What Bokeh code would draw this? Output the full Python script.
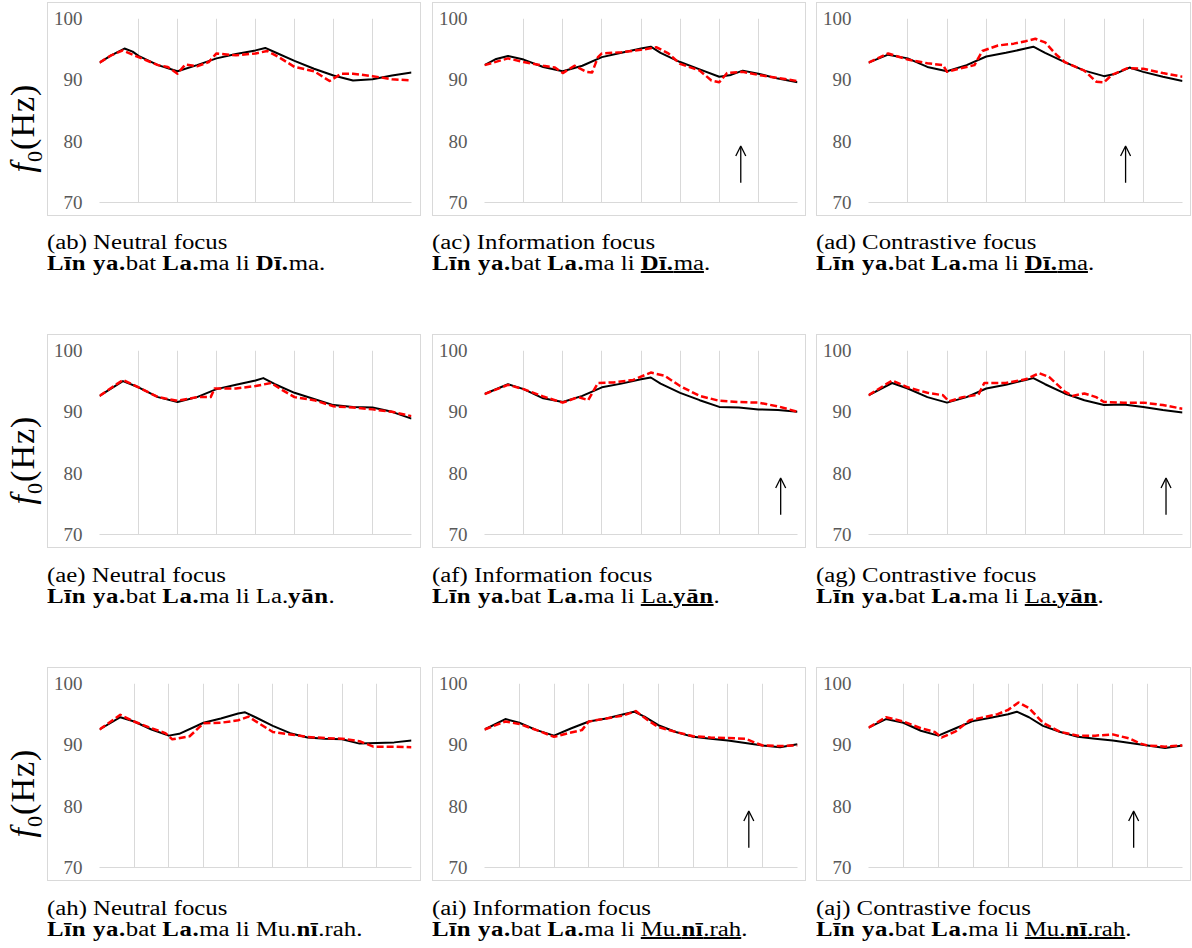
from bokeh.plotting import figure
from bokeh.models import Range1d, FixedTicker, Arrow, OpenHead, Div
from bokeh.layouts import row, column
from bokeh.embed import file_html
from bokeh.resources import INLINE

# ---------------- data ----------------
y_ticks = [70, 80, 90, 100]
row_intervals = [8, 8, 9]          # syllable intervals per row (gridlines - 1)

ab_black_x = [0, 0.3, 0.64, 0.85, 1, 1.5, 2, 2.5, 3, 3.5, 4, 4.25, 4.5, 5, 5.5, 6, 6.5, 7, 7.5, 8]
ab_black_y = [92.8, 94.0, 95.1, 94.6, 93.9, 92.4, 91.4, 92.4, 93.5, 94.2, 94.8, 95.2, 94.5, 93.1, 91.8, 90.7, 89.9, 90.1, 90.7, 91.2]
ab_red_x = [0, 0.3, 0.6, 1, 1.5, 1.75, 2, 2.2, 2.5, 2.8, 3, 3.5, 4, 4.3, 4.6, 5, 5.5, 5.9, 6.2, 6.5, 7, 7.5, 8]
ab_red_y = [92.8, 94.0, 94.8, 93.7, 92.4, 92.1, 91.0, 92.5, 92.2, 92.9, 94.3, 94.0, 94.3, 94.7, 93.7, 92.1, 91.4, 89.8, 91.0, 91.0, 90.6, 90.1, 89.9]

ac_black_x = [0, 0.3, 0.6, 1, 1.5, 2, 2.5, 3, 3.5, 4, 4.25, 4.5, 5, 5.5, 6, 6.3, 6.6, 7, 7.5, 8]
ac_black_y = [92.4, 93.4, 93.9, 93.3, 92.1, 91.4, 92.3, 93.7, 94.4, 95.1, 95.4, 94.4, 92.9, 91.7, 90.5, 90.8, 91.5, 91.0, 90.2, 89.6]
ac_red_x = [0, 0.6, 1, 1.5, 1.8, 2, 2.3, 2.6, 2.75, 2.9, 3, 3.5, 4, 4.4, 4.7, 5, 5.5, 5.8, 6, 6.2, 6.6, 7, 7.5, 8]
ac_red_y = [92.4, 93.5, 92.9, 92.3, 92.0, 91.1, 92.3, 91.3, 91.2, 93.7, 94.3, 94.5, 94.9, 95.3, 94.3, 92.6, 91.5, 89.9, 89.6, 91.1, 91.3, 90.8, 90.3, 89.8]

ad_black_x = [0, 0.5, 1, 1.5, 2, 2.5, 3, 3.5, 4, 4.2, 4.5, 5, 5.5, 6, 6.3, 6.65, 7, 7.5, 8]
ad_black_y = [92.8, 94.1, 93.5, 92.1, 91.4, 92.4, 93.8, 94.4, 95.1, 95.4, 94.4, 92.9, 91.5, 90.6, 91.0, 92.0, 91.3, 90.5, 89.8]
ad_red_x = [0, 0.5, 1, 1.5, 1.9, 2, 2.3, 2.7, 2.9, 3.3, 3.7, 4, 4.25, 4.5, 4.8, 5, 5.5, 5.8, 6, 6.2, 6.6, 7, 7.5, 8]
ad_red_y = [92.8, 94.3, 93.3, 92.7, 92.4, 91.3, 91.8, 92.4, 94.7, 95.6, 95.9, 96.3, 96.7, 96.1, 94.0, 92.9, 91.5, 89.7, 89.6, 90.8, 91.9, 91.8, 91.1, 90.5]

ae_black_x = [0, 0.6, 1, 1.5, 2, 2.5, 3, 3.5, 4, 4.2, 4.5, 5, 5.5, 6, 6.5, 7, 7.5, 8]
ae_black_y = [92.6, 95.0, 94.0, 92.4, 91.6, 92.4, 93.7, 94.4, 95.1, 95.5, 94.5, 93.1, 92.1, 91.1, 90.8, 90.7, 90.0, 88.9]
ae_red_x = [0, 0.6, 1, 1.5, 2, 2.5, 2.85, 2.95, 3.5, 4, 4.4, 4.7, 5, 5.5, 6, 6.5, 7, 7.5, 8]
ae_red_y = [92.6, 95.2, 94.0, 92.4, 91.8, 92.4, 92.4, 93.8, 93.8, 94.2, 94.7, 93.5, 92.4, 91.9, 90.9, 90.7, 90.4, 90.0, 89.3]

af_black_x = [0, 0.6, 1, 1.5, 2, 2.5, 3, 3.5, 4, 4.25, 4.5, 5, 5.5, 6, 6.5, 7, 7.5, 8]
af_black_y = [92.9, 94.5, 93.7, 92.2, 91.6, 92.6, 94.0, 94.6, 95.3, 95.6, 94.6, 93.1, 91.9, 90.8, 90.7, 90.4, 90.3, 90.0]
af_red_x = [0, 0.6, 1, 1.5, 2, 2.4, 2.65, 2.9, 3.3, 3.8, 4.25, 4.6, 5, 5.5, 6, 6.5, 7, 7.5, 8]
af_red_y = [92.9, 94.4, 93.7, 92.5, 91.5, 92.4, 91.9, 94.7, 94.8, 95.2, 96.4, 95.9, 94.2, 92.6, 91.8, 91.6, 91.5, 90.9, 90.0]

ag_black_x = [0, 0.6, 1, 1.5, 2, 2.5, 3, 3.5, 4, 4.2, 4.5, 5, 5.5, 6, 6.5, 7, 7.5, 8]
ag_black_y = [92.7, 94.7, 93.8, 92.4, 91.5, 92.4, 93.8, 94.4, 95.2, 95.5, 94.5, 93.0, 91.9, 91.1, 91.2, 90.8, 90.3, 89.9]
ag_red_x = [0, 0.6, 1, 1.5, 1.9, 2.05, 2.4, 2.8, 2.95, 3.5, 4, 4.35, 4.6, 5, 5.2, 5.5, 5.8, 6, 6.5, 7, 7.5, 8]
ag_red_y = [92.7, 95.1, 94.0, 93.1, 92.7, 91.7, 92.4, 92.8, 94.7, 94.7, 95.3, 96.3, 95.7, 93.3, 92.6, 93.0, 92.4, 91.6, 91.5, 91.5, 91.1, 90.5]

ah_black_x = [0, 0.6, 1, 1.5, 2, 2.3, 3, 3.5, 4, 4.2, 4.5, 5, 5.5, 6, 6.5, 7, 7.5, 8, 8.5, 9]
ah_black_y = [92.5, 94.5, 93.8, 92.5, 91.5, 91.8, 93.6, 94.3, 95.1, 95.3, 94.5, 93.1, 91.9, 91.2, 91.0, 90.9, 90.2, 90.3, 90.4, 90.7]
ah_red_x = [0, 0.6, 1, 1.5, 1.9, 2.1, 2.6, 3, 3.5, 4, 4.3, 4.6, 5, 5.5, 6, 6.5, 7, 7.5, 7.9, 8.5, 9]
ah_red_y = [92.5, 94.9, 93.8, 92.7, 91.9, 90.9, 91.4, 93.5, 93.6, 94.0, 94.6, 93.5, 92.1, 91.7, 91.3, 91.1, 91.0, 90.6, 89.7, 89.7, 89.6]

ai_black_x = [0, 0.6, 1, 1.5, 2, 2.5, 3, 3.5, 4, 4.3, 4.6, 5, 5.5, 6, 6.5, 7, 7.5, 8, 8.5, 9]
ai_black_y = [92.5, 94.2, 93.6, 92.4, 91.5, 92.7, 93.8, 94.3, 95.0, 95.4, 94.6, 93.2, 92.1, 91.3, 91.0, 90.7, 90.3, 89.9, 89.6, 90.1]
ai_red_x = [0, 0.6, 1, 1.5, 2, 2.4, 2.8, 3, 3.5, 4, 4.35, 4.7, 5, 5.5, 6, 6.5, 7, 7.5, 7.8, 8, 8.5, 9]
ai_red_y = [92.5, 93.8, 93.4, 92.4, 91.3, 91.9, 92.4, 93.8, 94.3, 94.8, 95.5, 94.0, 92.9, 92.1, 91.4, 91.2, 91.1, 91.0, 90.3, 89.9, 89.8, 89.9]

aj_black_x = [0, 0.5, 1, 1.5, 2, 2.5, 3, 3.5, 4, 4.25, 4.6, 5, 5.5, 6, 6.5, 7, 7.5, 8, 8.5, 9]
aj_black_y = [92.8, 94.2, 93.6, 92.3, 91.5, 92.7, 93.9, 94.4, 95.0, 95.4, 94.5, 93.1, 92.1, 91.3, 91.0, 90.7, 90.3, 89.9, 89.5, 89.9]
aj_red_x = [0, 0.5, 1, 1.5, 1.9, 2.1, 2.5, 2.9, 3.3, 3.7, 4, 4.3, 4.6, 5, 5.5, 6, 6.5, 7, 7.5, 7.8, 8, 8.5, 9]
aj_red_y = [92.8, 94.5, 93.8, 92.7, 92.1, 91.2, 92.2, 94.0, 94.5, 95.0, 95.7, 96.9, 96.0, 93.6, 92.1, 91.5, 91.5, 91.7, 91.0, 90.2, 89.9, 89.7, 89.9]

# focus arrows (panels with information / contrastive focus)
arrow_x = [None, 6.55, 6.55, None, 7.57, 7.58, None, 7.6, 7.6]
arrow_y_start = 73.2
arrow_y_end = 79.2

caption_titles = [
    "(ab) Neutral focus", "(ac) Information focus", "(ad) Contrastive focus",
    "(ae) Neutral focus", "(af) Information focus", "(ag) Contrastive focus",
    "(ah) Neutral focus", "(ai) Information focus", "(aj) Contrastive focus",
]
caption_sentences = [
    "<b>Līn ya.</b>bat <b>La.</b>ma li <b>Dī.</b>ma.",
    "<b>Līn ya.</b>bat <b>La.</b>ma li <u><b>Dī.</b>ma</u>.",
    "<b>Līn ya.</b>bat <b>La.</b>ma li <u><b>Dī.</b>ma</u>.",
    "<b>Līn ya.</b>bat <b>La.</b>ma li La.<b>yān</b>.",
    "<b>Līn ya.</b>bat <b>La.</b>ma li <u>La.<b>yān</b></u>.",
    "<b>Līn ya.</b>bat <b>La.</b>ma li <u>La.<b>yān</b></u>.",
    "<b>Līn ya.</b>bat <b>La.</b>ma li Mu.<b>nī</b>.rah.",
    "<b>Līn ya.</b>bat <b>La.</b>ma li <u>Mu.<b>nī</b>.rah</u>.",
    "<b>Līn ya.</b>bat <b>La.</b>ma li <u>Mu.<b>nī</b>.rah</u>.",
]

series = [
    (ab_black_x, ab_black_y, ab_red_x, ab_red_y),
    (ac_black_x, ac_black_y, ac_red_x, ac_red_y),
    (ad_black_x, ad_black_y, ad_red_x, ad_red_y),
    (ae_black_x, ae_black_y, ae_red_x, ae_red_y),
    (af_black_x, af_black_y, af_red_x, af_red_y),
    (ag_black_x, ag_black_y, ag_red_x, ag_red_y),
    (ah_black_x, ah_black_y, ah_red_x, ah_red_y),
    (ai_black_x, ai_black_y, ai_red_x, ai_red_y),
    (aj_black_x, aj_black_y, aj_red_x, aj_red_y),
]

# ---------------- layout constants ----------------
PANEL_H = 212                 # inner height (plus 1px border each side -> 214)
PANEL_W = [372, 372, 373]     # inner widths (plus border -> 374, 374, 375)
RIGHT_B = [11, 10, 10]
GAP_LEFT = [0, 11, 10]
YLAB_W = 47
CAP_H = [118, 119, 62]
CAP_PAD = [16, 17, 17]
GRID_C = "#d9d9d9"
SERIF = "Liberation Serif"


def make_panel(idx, n_int, c):
    bx, by, rx, ry = series[idx]
    width = PANEL_W[c]
    p = figure(width=width, height=PANEL_H, output_backend="svg", toolbar_location=None,
               x_range=Range1d(0, n_int), y_range=Range1d(70, 100),
               min_border_left=51, min_border_right=RIGHT_B[c],
               min_border_top=15, min_border_bottom=15)
    p.outline_line_color = None
    p.background_fill_color = "white"
    p.border_fill_color = "white"

    p.yaxis.ticker = FixedTicker(ticks=y_ticks)
    p.yaxis.axis_line_color = None
    p.yaxis.major_tick_line_color = None
    p.yaxis.major_tick_out = 0
    p.yaxis.major_tick_in = 0
    p.yaxis.minor_tick_line_color = None
    p.yaxis.minor_tick_out = 0
    p.yaxis.major_label_text_font = SERIF
    p.yaxis.major_label_text_font_size = "19px"
    p.yaxis.major_label_text_color = "#595959"
    p.yaxis.major_label_standoff = 17

    p.xaxis.ticker = FixedTicker(ticks=[])
    p.xaxis.axis_line_color = GRID_C
    p.xaxis.axis_line_width = 1
    p.xaxis.major_tick_line_color = None
    p.xaxis.major_tick_out = 0
    p.xaxis.minor_tick_line_color = None
    p.xaxis.major_label_text_font_size = "1px"

    p.xgrid.ticker = FixedTicker(ticks=list(range(n_int + 1)))
    p.xgrid.grid_line_color = GRID_C
    p.ygrid.grid_line_color = None

    p.line(bx, by, line_color="black", line_width=2, line_join="round")
    p.line(rx, ry, line_color="#ff0000", line_width=2.5, line_dash="7 3", line_join="round")

    ax = arrow_x[idx]
    if ax is not None:
        p.add_layout(Arrow(x_start=ax, y_start=arrow_y_start, x_end=ax, y_end=arrow_y_end,
                           line_color="black", line_width=1.3,
                           end=OpenHead(size=10, line_width=1.3, line_color="black")))

    p.styles = {"border": "1px solid " + GRID_C, "box-sizing": "content-box"}
    p.margin = (0, 0, 0, GAP_LEFT[c])
    return p


def ylabel_div():
    h = PANEL_H + 2
    html = ('<div style="position:relative;width:%dpx;height:%dpx;">'
            '<span style="position:absolute;left:26px;top:126px;transform:translate(-50%%,-50%%) rotate(-90deg);'
            'font-family:\'%s\',serif;font-size:34px;letter-spacing:1px;color:#000;white-space:nowrap;'
            'line-height:1;">'
            '<i>f</i><sub style="font-size:22px;">0</sub>(Hz)</span></div>') % (YLAB_W, h, SERIF)
    return Div(text=html, width=YLAB_W, height=h, margin=0)


def caption_div(idx, c, height, pad):
    width = PANEL_W[c] + 2
    html = ('<style>b{letter-spacing:0.5px;}</style>'
            '<div style="font-family:\'%s\',serif;font-size:20px;line-height:21px;color:#000;'
            'white-space:nowrap;padding-top:%dpx;transform:scaleX(1.24);transform-origin:0 0;">'
            '%s<br>%s</div>') % (SERIF, pad, caption_titles[idx], caption_sentences[idx])
    return Div(text=html, width=width, height=height,
               margin=(0, 0, 0, GAP_LEFT[c] + (YLAB_W if c == 0 else 0)))


blocks = []
for r in range(3):
    figs = [ylabel_div()]
    caps = []
    for c in range(3):
        idx = r * 3 + c
        figs.append(make_panel(idx, row_intervals[r], c))
        caps.append(caption_div(idx, c, CAP_H[r], CAP_PAD[r]))
    blocks.append(row(*figs, margin=0, spacing=0))
    blocks.append(row(*caps, margin=0, spacing=0))

root = column(*blocks, margin=(2, 0, 0, 0), spacing=0)

open("out.html", "w").write(file_html(root, INLINE))
